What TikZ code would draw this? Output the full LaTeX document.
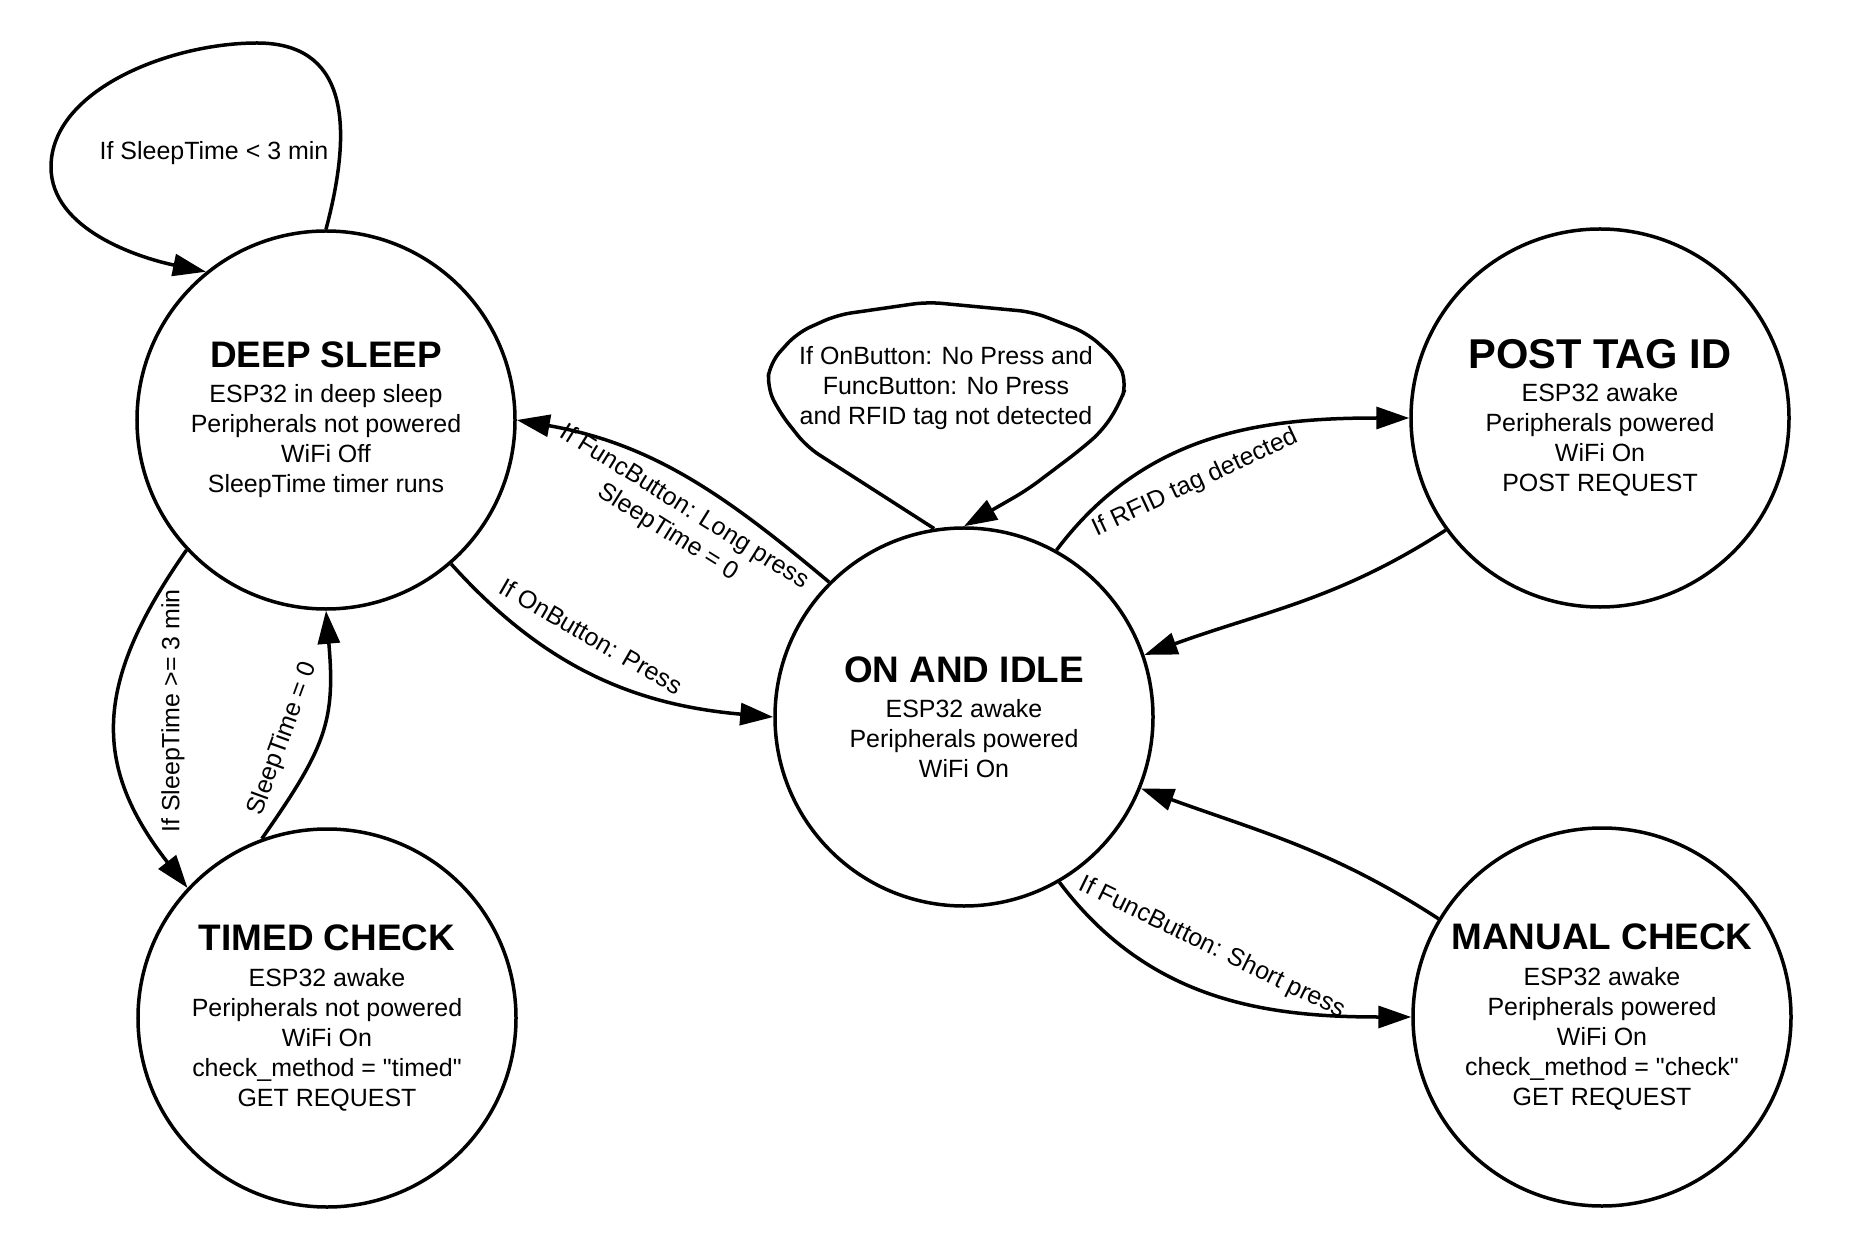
\documentclass[tikz,border=0pt]{standalone}
\usepackage{fontspec}
\setmainfont{Liberation Sans}
\usetikzlibrary{arrows.meta}

\newcommand{\statetitle}[1]{{\fontsize{21}{25}\selectfont\bfseries #1}}

\begin{document}
\begin{tikzpicture}[
                x=0.2mm, y=0.2mm,
                state/.style={circle,draw,line width=0.7mm,minimum size=75.6mm,inner sep=0pt,align=center,font=\fontsize{14.2}{17.07}\selectfont},
                trans/.style={line width=0.7mm,-{Triangle[length=6.6mm,width=4.4mm]}},
                cond/.style={inner sep=0pt,align=center,font=\fontsize{14.2}{17.07}\selectfont},
                ]
                \useasboundingbox (0,0) rectangle (1873,1245);

                % states
                \node[state] (ds) at (326,825) {\statetitle{DEEP SLEEP}\\[3pt] ESP32 in deep sleep\\ Peripherals not powered\\ WiFi Off\\ SleepTime timer runs};
                \node[state] (pt) at (1600,827) {{\fontsize{23.7}{27}\selectfont\bfseries POST TAG ID}\\[2pt] ESP32 awake\\ Peripherals powered\\ WiFi On\\ POST REQUEST};
                \node[state] (on) at (964,528) {\statetitle{ON AND IDLE}\\[3pt] ESP32 awake\\ Peripherals powered\\ WiFi On};
                \node[state] (tc) at (327,227) {\statetitle{TIMED CHECK}\\[3pt] ESP32 awake\\ Peripherals not powered\\ WiFi On\\ check\_method = \textquotedbl timed\textquotedbl\\ GET REQUEST};
                \node[state] (mc) at (1602,228) {\statetitle{MANUAL CHECK}\\[3pt] ESP32 awake\\ Peripherals powered\\ WiFi On\\ check\_method = \textquotedbl check\textquotedbl\\ GET REQUEST};

                % deep sleep
                \draw[trans] (ds.90) .. controls (355,1125) and (345,1202) .. (257,1202)
                    .. controls (170,1202) and (51,1155) .. (51,1078)
                    .. controls (51,1015) and (140,987) .. (ds.129);
                \node[cond] (c1) at (214,1092) {If SleepTime < 3 min};
                \draw[trans] (ds.223) to[out=235,in=128,looseness=1.2] (tc.137);
                \node[cond,rotate=90] (c2) at (173,534) {If SleepTime >= 3 min};
                \draw[trans] (tc.110) to[out=55,in=-85,looseness=1.2] (ds.270);
                \node[cond,rotate=70] (c3) at (283,506) {SleepTime = 0};
                \draw[trans] (ds.-49) to[out=-48,in=175] (on.180);
                \node[cond,rotate=-30] (c4) at (591,609) {If OnButton: Press};

                % on and idle
                \draw[trans] (on.135) to[out=140,in=-10] (ds.0);
                \node[cond,rotate=-32] (c5) at (676,725) {If FuncButton: Long press\\ SleepTime = 0};
                \draw[trans,rounded corners=8] (on.99) -- (807,798) -- (780,832) -- (767,858) -- (770,882)
                    -- (797,912) -- (837,930) -- (927,943) -- (1033,933) -- (1087,912) -- (1117,885)
                    -- (1127,862) -- (1120,842) -- (1103,815) -- (1080,795) -- (1027,755) -- (on.90);
                \node[cond] (c6) at (946,857) {If OnButton: No Press and\\ FuncButton: No Press\\ and RFID tag not detected};
                \draw[trans] (on.61) to[out=53,in=180] (pt.180);
                \node[cond,rotate=25] (c7) at (1195,762) {If RFID tag detected};
                \draw[trans] (on.-60) to[out=-53,in=180] (mc.180);
                \node[cond,rotate=-26] (c8) at (1212,297) {If FuncButton: Short press};

                % back to idle
                \draw[trans] (pt.216) to[out=213,in=20] (on.19);
                \draw[trans] (mc.149) to[out=147,in=-20] (on.-22);
            \end{tikzpicture}
\end{document}
